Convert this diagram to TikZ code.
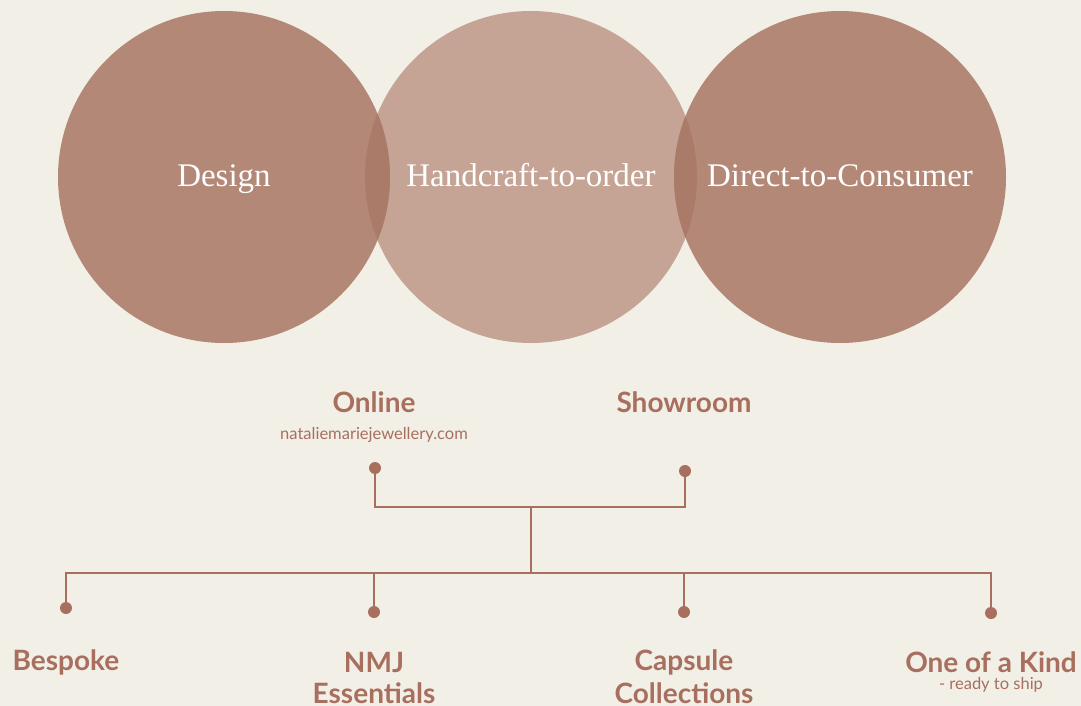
\documentclass[tikz,border=0pt]{standalone}
\usepackage{fontspec}
\setmainfont{Liberation Serif}
\newfontfamily\lab{Lato}
\definecolor{bg}{HTML}{F2EFE6}
\definecolor{outer}{HTML}{B48877}
\definecolor{inner}{HTML}{C5A495}
\definecolor{lens}{HTML}{AB7B6A}
\definecolor{ink}{HTML}{A86F5F}
\tikzset{
  dotn/.style={circle,fill=ink,inner sep=0pt,minimum size=12pt},
  conn/.style={draw=ink,line width=2pt},
  circtext/.style={text=white,font=\fontsize{33}{33}\selectfont,anchor=base},
  headl/.style={text=ink,font=\lab\bfseries\fontsize{28}{32}\selectfont,align=center},
  subl/.style={text=ink,font=\lab\fontsize{16.5}{18}\selectfont},
}
\begin{document}
\begin{tikzpicture}[x=1pt,y=-1pt]
\fill[bg] (0,0) rectangle (1081,706);
\useasboundingbox (0,0) rectangle (1081,706);
% circles
\fill[inner] (531,177) circle (166);
\fill[outer] (224,177) circle (166);
\fill[outer] (840,177) circle (166);
\begin{scope}
  \clip (224,177) circle (166);
  \fill[lens] (531,177) circle (166);
\end{scope}
\begin{scope}
  \clip (840,177) circle (166);
  \fill[lens] (531,177) circle (166);
\end{scope}
\node[circtext] (cdesign) at (224,186) {Design};
\node[circtext] (chand) at (531,186) {Handcraft-to-order};
\node[circtext] (cdirect) at (840,186) {Direct-to-Consumer};
% top labels
\node[headl] (online) at (374,402) {Online};
\node[subl] (url) at (374,435) {nataliemariejewellery.com};
\node[headl] (showroom) at (684,402) {Showroom};
% dots
\node[dotn] (don) at (375,468) {};
\node[dotn] (dsh) at (685,471) {};
\coordinate (j1) at (531,507);
\coordinate (j2) at (531,573);
\node[dotn] (db) at (66,608) {};
\node[dotn] (dn) at (374,612) {};
\node[dotn] (dc) at (684,612) {};
\node[dotn] (dk) at (991,613) {};
% connectors
\draw[conn] (don.center) -- (don |- j1) -- (dsh |- j1) -- (dsh.center);
\draw[conn] (j1) -- (j2);
\draw[conn] (db.center) -- (db |- j2) -- (dk |- j2) -- (dk.center);
\draw[conn] (dn |- j2) -- (dn.center);
\draw[conn] (dc |- j2) -- (dc.center);
% bottom labels
\node[headl] (bespoke) at (66,662) {Bespoke};
\node[headl] (nmj) at (374,662) {NMJ};
\node[headl] (ess) at (374,693) {Essentials};
\node[headl] (caps) at (684,662) {Capsule};
\node[headl] (coll) at (684,693) {Collections};
\node[headl] (kind) at (991,662) {One of a Kind};
\node[subl] (ship) at (991,685) {- ready to ship};
\end{tikzpicture}
\end{document}
